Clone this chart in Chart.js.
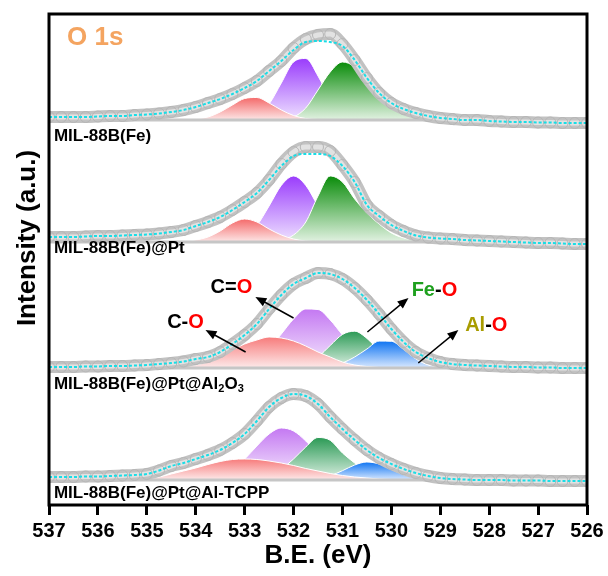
<!DOCTYPE html>
<html>
<head>
<meta charset="utf-8">
<script src="https://cdn.jsdelivr.net/npm/chart.js@4.4.1/dist/chart.umd.min.js"></script>
<style>
  html, body { margin: 0; padding: 0; background: #fff; }
</style>
</head>
<body>
<canvas id="xps" width="608" height="576"></canvas>
<script>
// binding energy grid of the measured / fitted envelope (eV)
const beGrid = [537, 536.75, 536.5, 536.25, 536, 535.75, 535.5, 535.25, 535, 534.75, 534.5, 534.25, 534, 533.75, 533.5, 533.25, 533, 532.75, 532.5, 532.25, 532, 531.75, 531.5, 531.25, 531, 530.75, 530.5, 530.25, 530, 529.75, 529.5, 529.25, 529, 528.75, 528.5, 528.25, 528, 527.75, 527.5, 527.25, 527, 526.75, 526.5, 526.25, 526];
// grid of the fitted component peaks (eV)
const peakGrid = [535.5, 535.25, 535, 534.75, 534.5, 534.25, 534, 533.75, 533.5, 533.25, 533, 532.75, 532.5, 532.25, 532, 531.75, 531.5, 531.25, 531, 530.75, 530.5, 530.25, 530, 529.75, 529.5, 529.25, 529, 528.75, 528.5];

const tickValues = [537, 536, 535, 534, 533, 532, 531, 530, 529, 528, 527, 526];

// MIL-88B(Fe)
const exp1 = [3, 3, 3, 3, 3.5, 4, 4, 5, 5.5, 6.5, 8, 10, 13, 17, 21, 26, 32, 39, 49, 59, 72, 81, 85, 86, 76, 60, 42, 27, 17, 11, 7, 4, 2, 1, 0, 0, -1, -1.5, -2, -2, -2.5, -2.5, -3, -3, -3];
const fit1 = [3, 3, 3, 3, 3.5, 4, 4, 5, 5.5, 6.5, 8, 10, 13, 17, 21, 26, 32, 39, 49, 59, 70, 78, 79, 78, 74, 60, 42, 27, 17, 11, 7, 4, 2, 1, 0, 0, -1, -1.5, -2, -2, -2.5, -2.5, -3, -3, -3];
const red1 = [0, 0, 0, 0, 0, 0.3, 1, 3, 8, 15, 21.5, 22.5, 17, 10, 4.5, 1.5, 0.5, 0, 0, 0, 0, 0, 0, 0, 0, 0, 0, 0, 0];
const purple1 = [0, 0, 0, 0, 0, 0, 0, 0, 0, 0.2, 1, 4.7, 16, 37, 58, 61.5, 44, 21, 7, 1.5, 0.3, 0, 0, 0, 0, 0, 0, 0, 0];
const green1 = [0, 0, 0, 0, 0, 0, 0, 0, 0, 0, 0, 0, 0.2, 0.8, 3, 12, 30, 48, 58, 53, 38, 24, 12, 6, 2.5, 1, 0.3, 0, 0];

// MIL-88B(Fe)@Pt
const exp2 = [5, 5, 5, 5.5, 6, 6, 6.5, 7, 7.5, 8.5, 10, 12, 16, 20, 25, 32, 40, 49, 62, 78, 90, 95, 95, 91, 77, 60, 37, 26, 17, 11, 6.5, 4.5, 3.5, 3, 2, 1.5, 1, 0.5, 0, -0.5, -1, -1, -1.5, -2, -2];
const fit2 = [5, 5, 5, 5.5, 6, 6, 6.5, 7, 7.5, 8.5, 10, 12, 16, 20, 25, 32, 40, 49, 62, 76, 86, 88, 88, 86, 76, 60, 37, 26, 17, 11, 6.5, 4.5, 3.5, 3, 2, 1.5, 1, 0.5, 0, -0.5, -1, -1, -1.5, -2, -2];
const red2 = [0, 0, 0, 0, 0.2, 0.5, 2, 5, 11, 19, 23, 20, 13, 7, 3, 1, 0.3, 0, 0, 0, 0, 0, 0, 0, 0, 0, 0, 0, 0];
const purple2 = [0, 0, 0, 0, 0, 0, 0, 0, 0.3, 1.4, 5.6, 16.5, 36, 56.6, 66, 56.6, 36, 16.5, 5.6, 1.4, 0.2, 0, 0, 0, 0, 0, 0, 0, 0];
const green2 = [0, 0, 0, 0, 0, 0, 0, 0, 0, 0, 0, 0, 0.5, 2, 7, 20, 46, 66, 60, 43, 29, 18, 9, 4, 1.5, 0.5, 0, 0, 0];

// MIL-88B(Fe)@Pt@Al2O3
const exp3 = [1, 1, 1, 1.5, 1.5, 2, 2, 2.5, 3, 4, 5, 6.5, 9, 11, 16, 24, 33, 44, 59, 73, 84, 90, 95, 94, 89, 80, 68, 54, 39, 26, 16, 10, 6, 4, 3, 2.5, 2, 1.5, 1, 1, 0.5, 0.5, 0, 0, 0];
const fit3 = [1, 1, 1, 1.5, 1.5, 2, 2, 2.5, 3, 4, 5, 6.5, 9, 11, 16, 24, 33, 44, 59, 73, 84, 90, 95, 94, 89, 80, 68, 54, 39, 26, 16, 10, 6, 4, 3, 2.5, 2, 1.5, 1, 1, 0.5, 0.5, 0, 0, 0];
const red3 = [0, 0, 0, 0.3, 0.7, 1.5, 3, 6, 11, 18, 24, 28, 31, 30, 27, 22, 16, 11, 6, 3, 1.5, 0.5, 0.2, 0, 0, 0, 0, 0, 0];
const purple3 = [0, 0, 0, 0, 0, 0, 0, 0.3, 0.8, 1.5, 3.7, 9.3, 19.5, 34, 49, 59, 58.5, 48, 33, 19, 9, 3.5, 1, 0.3, 0, 0, 0, 0, 0];
const green3 = [0, 0, 0, 0, 0, 0, 0, 0, 0, 0, 0, 0, 0.1, 0.3, 1, 4, 11, 22.5, 33.5, 36.8, 29.6, 17.5, 7.6, 2.4, 0.6, 0.1, 0, 0, 0];
const blue3 = [0, 0, 0, 0, 0, 0, 0, 0, 0, 0, 0, 0, 0, 0, 0, 0, 0.3, 1.5, 5, 11, 19, 26.9, 26.7, 18.6, 9.1, 3.1, 0.8, 0.2, 0];

// MIL-88B(Fe)@Pt@Al-TCPP
const exp4 = [3, 3, 3, 3.5, 3.5, 4, 4.5, 5, 6, 9.5, 14, 17, 21, 25, 30, 37, 46, 59, 73, 82, 86, 84, 76, 63, 51, 40, 30, 22, 16, 11, 7, 4, 2, 1, 0.5, 0, 0, 0, -0.5, -0.5, -0.5, -1, -1, -1, -1];
const fit4 = [3, 3, 3, 3.5, 3.5, 4, 4.5, 5, 6, 9.5, 14, 17, 21, 25, 30, 37, 46, 59, 73, 82, 86, 84, 76, 63, 51, 40, 30, 22, 16, 11, 7, 4, 2, 1, 0.5, 0, 0, 0, -0.5, -0.5, -0.5, -1, -1, -1, -1];
const red4 = [0.3, 0.7, 1.2, 3, 6, 9, 12, 15.5, 18.5, 20.5, 21, 20.5, 19, 17, 14.5, 11.5, 9, 6.5, 4.5, 3, 2, 1, 0.5, 0.2, 0, 0, 0, 0, 0];
const purple4 = [0, 0, 0, 0, 0, 0, 0.5, 1.8, 5, 11, 21, 34, 46, 52, 49, 39, 26, 15, 7, 2.8, 1, 0.3, 0, 0, 0, 0, 0, 0, 0];
const green4 = [0, 0, 0, 0, 0, 0, 0, 0, 0, 0, 0, 0.8, 4, 11, 21, 33, 42.5, 39.7, 27, 17, 8, 3, 1, 0.3, 0, 0, 0, 0, 0];
const blue4 = [0, 0, 0, 0, 0, 0, 0, 0, 0, 0, 0, 0, 0, 0, 0, 0.3, 1.5, 4.3, 9.3, 15, 18, 16, 10.7, 5.3, 2, 0.6, 0.1, 0, 0];

// vertical offsets of the stacked spectra (a.u.)
const offsets = [385, 263, 137, 25];
const sampleNames = [
  [['MIL-88B(Fe)']],
  [['MIL-88B(Fe)@Pt']],
  [['MIL-88B(Fe)@Pt@Al'], ['2', 1], ['O'], ['3', 1]],
  [['MIL-88B(Fe)@Pt@Al-TCPP']]
];
const sampleLabelY = [369, 257, 121, 12];

const FONT = '"Liberation Sans", Arial, Helvetica, sans-serif';
Chart.defaults.font.family = FONT;

const brightColors = { red: ['#f46a6a', '#fde7e7'], purple: ['#9a3cfc', '#efe3ff'], green: ['#0a8c0a', '#e2f2e2'] };
const softColors = { red: ['#f77b7b', '#fdeaea'], purple: ['#c478f2', '#f5ebfd'], green: ['#2b9a55', '#e0f1e6'], blue: ['#0e74f2', '#dae9ff'] };
const layerOrder = { red: 6, blue: 7, green: 8, purple: 9 };

const panels = [
  { base: offsets[0], exp: exp1, fit: fit1, colors: brightColors, peaks: [['red', red1], ['purple', purple1], ['green', green1]] },
  { base: offsets[1], exp: exp2, fit: fit2, colors: brightColors, peaks: [['red', red2], ['purple', purple2], ['green', green2]] },
  { base: offsets[2], exp: exp3, fit: fit3, colors: softColors, peaks: [['red', red3], ['purple', purple3], ['green', green3], ['blue', blue3]] },
  { base: offsets[3], exp: exp4, fit: fit4, colors: softColors, peaks: [['red', red4], ['purple', purple4], ['green', green4], ['blue', blue4]] }
];

// bond assignments drawn on the Al2O3 spectrum
const bondLabels = [
  { parts: [['C', '#000'], ['=', '#000'], ['O', '#ff0000']], be: 533.27, v: 218 },
  { parts: [['C', '#000'], ['-', '#000'], ['O', '#ff0000']], be: 534.21, v: 183 },
  { parts: [['Fe', '#1ea01e'], ['-', '#000'], ['O', '#ff0000']], be: 529.12, v: 215 },
  { parts: [['Al', '#a89c00'], ['-', '#000'], ['O', '#ff0000']], be: 528.06, v: 180 }
];
const bondArrows = [
  [532.0, 187, 532.78, 208],
  [532.98, 153, 533.8, 175],
  [530.49, 173, 529.65, 207],
  [529.45, 142, 528.63, 175]
];

function gradientFill(cols, base, height) {
  return function (context) {
    const chart = context.chart;
    if (!chart.chartArea) return cols[0];
    const y = chart.scales.y;
    const g = chart.ctx.createLinearGradient(0, y.getPixelForValue(base + height), 0, y.getPixelForValue(base));
    g.addColorStop(0, cols[0]);
    g.addColorStop(1, cols[1]);
    return g;
  };
}

const datasets = [];
panels.forEach(p => {
  datasets.push({
    data: [{ x: beGrid[0], y: p.base }, { x: beGrid[beGrid.length - 1], y: p.base }],
    borderColor: '#c6c6c6', borderWidth: 3, pointRadius: 0, fill: false, order: 5
  });
  p.peaks.forEach(([name, ys]) => {
    datasets.push({
      data: peakGrid.map((x, i) => ({ x: x, y: p.base + ys[i] })),
      borderColor: '#ffffff', borderWidth: 1, pointRadius: 0,
      cubicInterpolationMode: 'monotone',
      fill: { value: p.base },
      backgroundColor: gradientFill(p.colors[name], p.base, Math.max(...ys)),
      order: layerOrder[name]
    });
  });
  const expPts = beGrid.map((x, i) => ({ x: x, y: p.base + p.exp[i] }));
  // measured points: grey open circles packed into a band
  datasets.push({
    data: expPts, borderColor: '#c2c2c2', borderWidth: 12, pointRadius: 0,
    cubicInterpolationMode: 'monotone', fill: false, order: 4
  });
  datasets.push({
    data: expPts, borderColor: '#e2e2e2', borderWidth: 5,
    pointRadius: 5.5, pointBorderColor: '#b6b6b6', pointBackgroundColor: 'rgba(0,0,0,0)', pointBorderWidth: 1,
    cubicInterpolationMode: 'monotone', fill: false, order: 3
  });
  datasets.push({
    data: beGrid.map((x, i) => ({ x: x, y: p.base + p.fit[i] })),
    borderColor: '#19dde6', borderWidth: 2, borderDash: [3, 2], pointRadius: 0,
    cubicInterpolationMode: 'monotone', fill: false, order: 1
  });
});

function drawParts(ctx, parts, x, y, size, align) {
  const fontFor = sub => 'bold ' + (sub ? Math.round(size * 0.65) : size) + 'px ' + FONT;
  let w = 0;
  parts.forEach(p => { ctx.font = fontFor(p[2]); w += ctx.measureText(p[0]).width; });
  let cx = align === 'center' ? x - w / 2 : x;
  ctx.textAlign = 'left';
  ctx.textBaseline = 'middle';
  parts.forEach(p => {
    ctx.font = fontFor(p[2]);
    ctx.fillStyle = p[1] || '#000';
    ctx.fillText(p[0], cx, y + (p[2] ? size * 0.3 : 0));
    cx += ctx.measureText(p[0]).width;
  });
}

function drawArrow(ctx, x1, y1, x2, y2) {
  const a = Math.atan2(y2 - y1, x2 - x1);
  const len = 11, half = 4.5;
  ctx.strokeStyle = '#000';
  ctx.fillStyle = '#000';
  ctx.lineWidth = 1.5;
  ctx.beginPath();
  ctx.moveTo(x1, y1);
  ctx.lineTo(x2 - Math.cos(a) * len * 0.8, y2 - Math.sin(a) * len * 0.8);
  ctx.stroke();
  ctx.beginPath();
  ctx.moveTo(x2, y2);
  ctx.lineTo(x2 - Math.cos(a) * len - Math.sin(a) * half, y2 - Math.sin(a) * len + Math.cos(a) * half);
  ctx.lineTo(x2 - Math.cos(a) * len + Math.sin(a) * half, y2 - Math.sin(a) * len - Math.cos(a) * half);
  ctx.closePath();
  ctx.fill();
}

const decorations = {
  id: 'decorations',
  afterDatasetsDraw(chart) {
    const ctx = chart.ctx, xs = chart.scales.x, ys = chart.scales.y, area = chart.chartArea;
    ctx.save();
    // frame
    ctx.strokeStyle = '#000';
    ctx.lineWidth = 3;
    ctx.strokeRect(area.left, area.top, area.right - area.left, area.bottom - area.top);

    // O 1s
    drawParts(ctx, [['O 1s', '#f4a460']], xs.getPixelForValue(536.63), ys.getPixelForValue(467), 26, 'left');

    // sample names
    sampleNames.forEach((parts, i) => {
      const ps = parts.map(p => [p[0], '#000', p[1]]);
      drawParts(ctx, ps, xs.getPixelForValue(536.9), ys.getPixelForValue(sampleLabelY[i]), 17, 'left');
    });

    // bond labels and arrows
    bondLabels.forEach(b => drawParts(ctx, b.parts, xs.getPixelForValue(b.be), ys.getPixelForValue(b.v), 20, 'center'));
    bondArrows.forEach(a => drawArrow(ctx,
      xs.getPixelForValue(a[0]), ys.getPixelForValue(a[1]),
      xs.getPixelForValue(a[2]), ys.getPixelForValue(a[3])));

    // y title
    ctx.translate(28, 238);
    ctx.rotate(-Math.PI / 2);
    ctx.font = 'bold 26px ' + FONT;
    ctx.fillStyle = '#000';
    ctx.textAlign = 'center';
    ctx.textBaseline = 'middle';
    ctx.fillText('Intensity (a.u.)', 0, 0);
    ctx.restore();
  }
};

new Chart(document.getElementById('xps'), {
  type: 'line',
  data: { datasets: datasets },
  options: {
    responsive: false,
    animation: false,
    events: [],
    layout: { padding: { left: 49, right: 21, top: 14, bottom: 0 } },
    plugins: { legend: { display: false }, tooltip: { enabled: false } },
    scales: {
      x: {
        type: 'linear',
        reverse: true,
        min: 526,
        max: 537,
        afterBuildTicks: scale => { scale.ticks = tickValues.map(v => ({ value: v })); },
        afterFit: scale => { scale.height = 71; },
        border: { display: false },
        grid: { drawOnChartArea: false, tickLength: 10, tickWidth: 3, tickColor: '#000' },
        ticks: {
          autoSkip: false, maxRotation: 0, padding: 4, color: '#000',
          font: { size: 20, weight: 'bold' },
          callback: v => String(v)
        },
        title: {
          display: true, text: 'B.E. (eV)', color: '#000',
          font: { size: 26, weight: 'bold' },
          padding: { top: 0, bottom: 5 }
        }
      },
      y: { display: false, min: 0, max: 491 }
    }
  },
  plugins: [decorations]
});
</script>
</body>
</html>
